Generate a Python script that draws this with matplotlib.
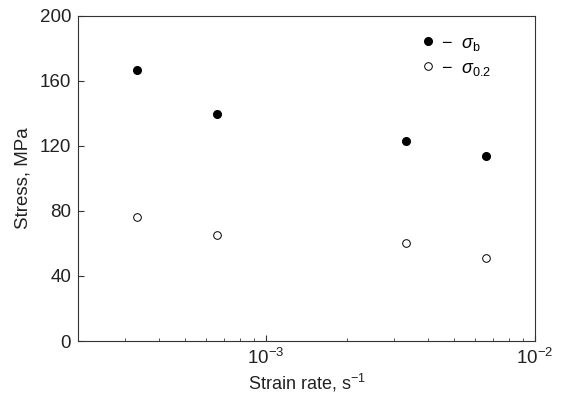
import matplotlib
matplotlib.use("Agg")
import matplotlib.pyplot as plt

plt.rcParams["font.family"] = ["Liberation Sans", "DejaVu Sans"]
plt.rcParams["mathtext.fontset"] = "custom"
plt.rcParams["mathtext.rm"] = "Liberation Sans"
plt.rcParams["mathtext.it"] = "Liberation Sans:italic"

strain_rate = [3.3e-4, 6.6e-4, 3.3e-3, 6.6e-3]
sigma_b = [167, 139.5, 123, 114]
sigma_02 = [76, 65.5, 60, 51]

fig = plt.figure(figsize=(5.67, 3.94), dpi=100)
ax = fig.add_axes([0.1376, 0.1345, 0.806, 0.825])

ax.plot(strain_rate, sigma_b, "o", color="black", markersize=5.5,
        label=r"$-\ \ \sigma_\mathrm{b}$")
ax.plot(strain_rate, sigma_02, "o", markerfacecolor="white", markeredgecolor="black",
        markeredgewidth=0.7, markersize=5.5, label=r"$-\ \ \sigma_\mathrm{0.2}$")

ax.set_xscale("log")
ax.set_xlim(2e-4, 1e-2)
ax.set_ylim(0, 200)
ax.set_yticks([0, 40, 80, 120, 160, 200])

for side in ["top", "bottom", "left", "right"]:
    ax.spines[side].set_linewidth(0.8)
    ax.spines[side].set_color("#333333")
ax.tick_params(axis="both", which="both", direction="in", labelsize=13.5, colors="#333333",
               labelcolor="#222222")
ax.tick_params(axis="both", which="major", length=4.5, width=0.8, pad=5)
ax.tick_params(axis="x", which="minor", length=2.5, width=0.6)

ax.set_xlabel("Strain rate, s$^{-1}$", fontsize=13, color="#222222", labelpad=3)
ax.set_ylabel("Stress, MPa", fontsize=13.5, color="#222222", labelpad=6)

ax.legend(loc="upper left", bbox_to_anchor=(0.74, 0.965), frameon=False, fontsize=13,
          handlelength=0.5, handletextpad=0.5, labelspacing=0.4, borderaxespad=0)

fig.savefig("out.png", dpi=100)
